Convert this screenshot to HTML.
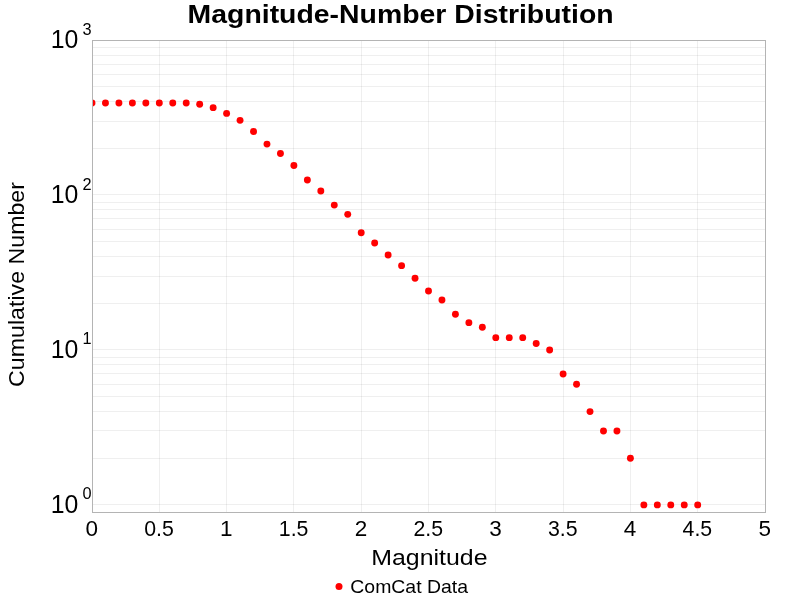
<!DOCTYPE html>
<html><head><meta charset="utf-8"><style>
html,body{margin:0;padding:0;background:#fff;}
svg{display:block;will-change:transform;}
text{font-family:"Liberation Sans",sans-serif;fill:#000;}
</style></head><body>
<svg width="800" height="600" viewBox="0 0 800 600">
<rect x="0" y="0" width="800" height="600" fill="#fff"/>
<g shape-rendering="crispEdges"><rect x="93" y="504" width="672" height="1" fill="rgba(0,0,0,0.063)"/><rect x="93" y="458" width="672" height="1" fill="rgba(0,0,0,0.063)"/><rect x="93" y="430" width="672" height="1" fill="rgba(0,0,0,0.063)"/><rect x="93" y="411" width="672" height="1" fill="rgba(0,0,0,0.063)"/><rect x="93" y="396" width="672" height="1" fill="rgba(0,0,0,0.063)"/><rect x="93" y="384" width="672" height="1" fill="rgba(0,0,0,0.063)"/><rect x="93" y="373" width="672" height="1" fill="rgba(0,0,0,0.063)"/><rect x="93" y="364" width="672" height="1" fill="rgba(0,0,0,0.063)"/><rect x="93" y="357" width="672" height="1" fill="rgba(0,0,0,0.063)"/><rect x="93" y="349" width="672" height="1" fill="rgba(0,0,0,0.063)"/><rect x="93" y="303" width="672" height="1" fill="rgba(0,0,0,0.063)"/><rect x="93" y="276" width="672" height="1" fill="rgba(0,0,0,0.063)"/><rect x="93" y="256" width="672" height="1" fill="rgba(0,0,0,0.063)"/><rect x="93" y="241" width="672" height="1" fill="rgba(0,0,0,0.063)"/><rect x="93" y="229" width="672" height="1" fill="rgba(0,0,0,0.063)"/><rect x="93" y="218" width="672" height="1" fill="rgba(0,0,0,0.063)"/><rect x="93" y="209" width="672" height="1" fill="rgba(0,0,0,0.063)"/><rect x="93" y="202" width="672" height="1" fill="rgba(0,0,0,0.063)"/><rect x="93" y="194" width="672" height="1" fill="rgba(0,0,0,0.063)"/><rect x="93" y="148" width="672" height="1" fill="rgba(0,0,0,0.063)"/><rect x="93" y="121" width="672" height="1" fill="rgba(0,0,0,0.063)"/><rect x="93" y="101" width="672" height="1" fill="rgba(0,0,0,0.063)"/><rect x="93" y="86" width="672" height="1" fill="rgba(0,0,0,0.063)"/><rect x="93" y="74" width="672" height="1" fill="rgba(0,0,0,0.063)"/><rect x="93" y="64" width="672" height="1" fill="rgba(0,0,0,0.063)"/><rect x="93" y="55" width="672" height="1" fill="rgba(0,0,0,0.063)"/><rect x="93" y="47" width="672" height="1" fill="rgba(0,0,0,0.063)"/><rect x="159" y="41" width="1" height="471" fill="rgba(0,0,0,0.063)"/><rect x="226" y="41" width="1" height="471" fill="rgba(0,0,0,0.063)"/><rect x="293" y="41" width="1" height="471" fill="rgba(0,0,0,0.063)"/><rect x="361" y="41" width="1" height="471" fill="rgba(0,0,0,0.063)"/><rect x="428" y="41" width="1" height="471" fill="rgba(0,0,0,0.063)"/><rect x="495" y="41" width="1" height="471" fill="rgba(0,0,0,0.063)"/><rect x="563" y="41" width="1" height="471" fill="rgba(0,0,0,0.063)"/><rect x="630" y="41" width="1" height="471" fill="rgba(0,0,0,0.063)"/><rect x="697" y="41" width="1" height="471" fill="rgba(0,0,0,0.063)"/></g>
<clipPath id="c"><rect x="92" y="40" width="673" height="472"/></clipPath>
<g clip-path="url(#c)" fill="#ff0000"><circle cx="92.00" cy="103.03" r="3.45"/><circle cx="105.46" cy="103.03" r="3.45"/><circle cx="118.92" cy="103.03" r="3.45"/><circle cx="132.38" cy="103.03" r="3.45"/><circle cx="145.84" cy="103.03" r="3.45"/><circle cx="159.30" cy="103.03" r="3.45"/><circle cx="172.76" cy="103.03" r="3.45"/><circle cx="186.22" cy="103.03" r="3.45"/><circle cx="199.68" cy="104.24" r="3.45"/><circle cx="213.14" cy="107.65" r="3.45"/><circle cx="226.60" cy="113.40" r="3.45"/><circle cx="240.06" cy="120.36" r="3.45"/><circle cx="253.52" cy="131.44" r="3.45"/><circle cx="266.98" cy="144.08" r="3.45"/><circle cx="280.44" cy="153.57" r="3.45"/><circle cx="293.90" cy="165.47" r="3.45"/><circle cx="307.36" cy="179.95" r="3.45"/><circle cx="320.82" cy="191.05" r="3.45"/><circle cx="334.28" cy="205.12" r="3.45"/><circle cx="347.74" cy="214.33" r="3.45"/><circle cx="361.20" cy="232.80" r="3.45"/><circle cx="374.66" cy="242.98" r="3.45"/><circle cx="388.12" cy="254.98" r="3.45"/><circle cx="401.58" cy="265.63" r="3.45"/><circle cx="415.04" cy="278.28" r="3.45"/><circle cx="428.50" cy="291.02" r="3.45"/><circle cx="441.96" cy="300.01" r="3.45"/><circle cx="455.42" cy="314.23" r="3.45"/><circle cx="468.88" cy="322.65" r="3.45"/><circle cx="482.34" cy="327.29" r="3.45"/><circle cx="495.80" cy="337.67" r="3.45"/><circle cx="509.26" cy="337.67" r="3.45"/><circle cx="522.72" cy="337.67" r="3.45"/><circle cx="536.18" cy="343.52" r="3.45"/><circle cx="549.64" cy="349.94" r="3.45"/><circle cx="563.10" cy="373.94" r="3.45"/><circle cx="576.56" cy="384.32" r="3.45"/><circle cx="590.02" cy="411.61" r="3.45"/><circle cx="603.48" cy="430.97" r="3.45"/><circle cx="616.94" cy="430.97" r="3.45"/><circle cx="630.40" cy="458.26" r="3.45"/><circle cx="643.86" cy="504.91" r="3.45"/><circle cx="657.32" cy="504.91" r="3.45"/><circle cx="670.78" cy="504.91" r="3.45"/><circle cx="684.24" cy="504.91" r="3.45"/><circle cx="697.70" cy="504.91" r="3.45"/></g>
<g shape-rendering="crispEdges"><rect x="92.5" y="40.5" width="673" height="472" fill="none" stroke="#b4b4b4" stroke-width="1"/></g>
<text x="187.6" y="23" font-size="25.8" font-weight="bold" textLength="426" lengthAdjust="spacingAndGlyphs">Magnitude-Number Distribution</text>
<text x="50.8" y="513" font-size="25.6" textLength="27.6" lengthAdjust="spacingAndGlyphs">10</text><text x="82.5" y="499" font-size="16.3">0</text><text x="50.8" y="358" font-size="25.6" textLength="27.6" lengthAdjust="spacingAndGlyphs">10</text><text x="82.5" y="344" font-size="16.3">1</text><text x="50.8" y="203" font-size="25.6" textLength="27.6" lengthAdjust="spacingAndGlyphs">10</text><text x="82.5" y="190" font-size="16.3">2</text><text x="50.8" y="48" font-size="25.6" textLength="27.6" lengthAdjust="spacingAndGlyphs">10</text><text x="82.5" y="35" font-size="16.3">3</text>
<text x="91.7" y="536" font-size="22.5" text-anchor="middle">0</text><text x="159.0" y="536" font-size="22.5" text-anchor="middle" textLength="29.6" lengthAdjust="spacingAndGlyphs">0.5</text><text x="226.3" y="536" font-size="22.5" text-anchor="middle">1</text><text x="293.6" y="536" font-size="22.5" text-anchor="middle" textLength="29.6" lengthAdjust="spacingAndGlyphs">1.5</text><text x="360.9" y="536" font-size="22.5" text-anchor="middle">2</text><text x="428.2" y="536" font-size="22.5" text-anchor="middle" textLength="29.6" lengthAdjust="spacingAndGlyphs">2.5</text><text x="495.5" y="536" font-size="22.5" text-anchor="middle">3</text><text x="562.8" y="536" font-size="22.5" text-anchor="middle" textLength="29.6" lengthAdjust="spacingAndGlyphs">3.5</text><text x="630.1" y="536" font-size="22.5" text-anchor="middle">4</text><text x="697.4" y="536" font-size="22.5" text-anchor="middle" textLength="29.6" lengthAdjust="spacingAndGlyphs">4.5</text><text x="764.7" y="536" font-size="22.5" text-anchor="middle">5</text>
<text x="371.3" y="564.8" font-size="22.8" textLength="116.2" lengthAdjust="spacingAndGlyphs">Magnitude</text>
<text transform="translate(24,387) rotate(-90)" x="0" y="0" font-size="22.4" textLength="205" lengthAdjust="spacingAndGlyphs">Cumulative Number</text>
<circle cx="339" cy="586.4" r="3.5" fill="#ff0000"/>
<text x="350.3" y="592.9" font-size="17.8" textLength="117.7" lengthAdjust="spacingAndGlyphs">ComCat Data</text>
</svg>
</body></html>
